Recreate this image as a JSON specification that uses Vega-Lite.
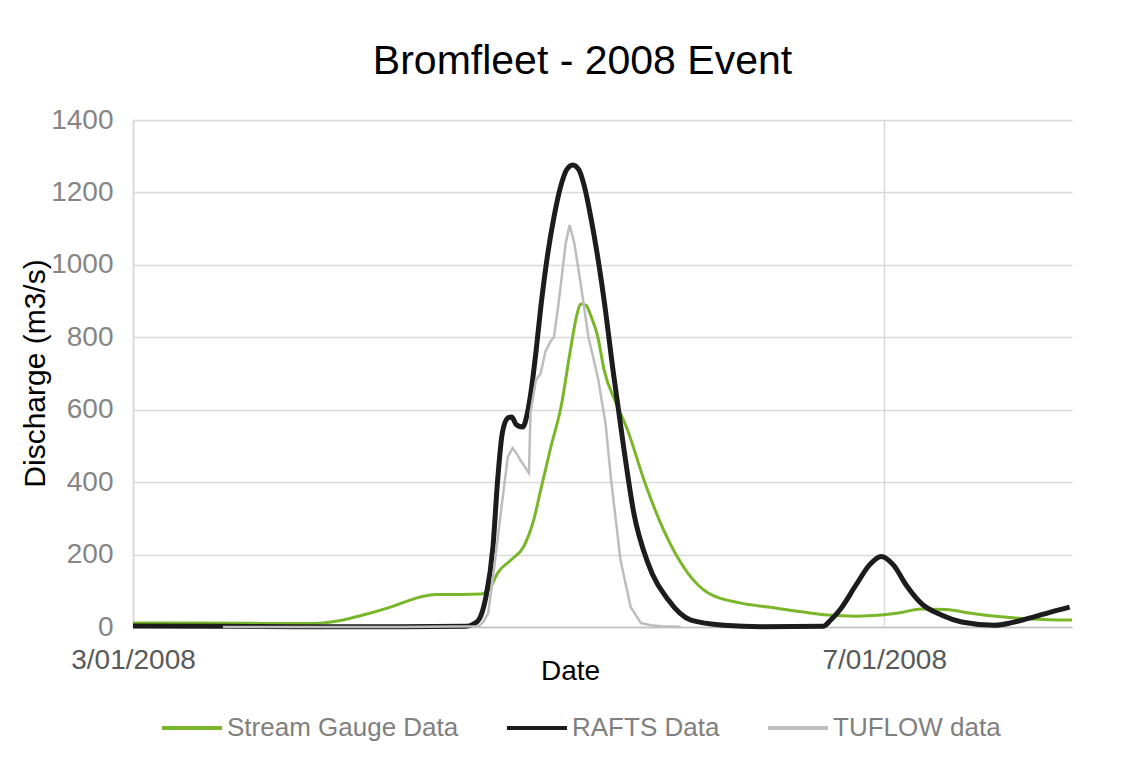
{
  "$schema": "https://vega.github.io/schema/vega-lite/v6.json",
  "width": 939,
  "height": 507,
  "autosize": "none",
  "padding": {"left": 133, "top": 120, "right": 67, "bottom": 133},
  "background": "white",
  "title": {"text": "Bromfleet - 2008 Event", "font": "Liberation Sans", "fontSize": 41, "fontWeight": "normal", "color": "#000000", "offset": 23, "dx": -20},
  "config": {
    "font": "Liberation Sans",
    "view": {"stroke": null},
    "legend": {"labelFont": "Liberation Sans"}
  },
  "data": {"values": [
    {"time": "2008-01-03T00:00", "series": "Stream Gauge Data", "discharge": 11},
    {"time": "2008-01-03T08:36", "series": "Stream Gauge Data", "discharge": 11},
    {"time": "2008-01-03T16:18", "series": "Stream Gauge Data", "discharge": 10},
    {"time": "2008-01-03T23:00", "series": "Stream Gauge Data", "discharge": 10},
    {"time": "2008-01-04T02:30", "series": "Stream Gauge Data", "discharge": 18},
    {"time": "2008-01-04T05:24", "series": "Stream Gauge Data", "discharge": 33},
    {"time": "2008-01-04T08:54", "series": "Stream Gauge Data", "discharge": 55},
    {"time": "2008-01-04T12:42", "series": "Stream Gauge Data", "discharge": 83},
    {"time": "2008-01-04T14:42", "series": "Stream Gauge Data", "discharge": 90},
    {"time": "2008-01-04T17:54", "series": "Stream Gauge Data", "discharge": 90},
    {"time": "2008-01-04T20:30", "series": "Stream Gauge Data", "discharge": 91},
    {"time": "2008-01-04T21:42", "series": "Stream Gauge Data", "discharge": 110},
    {"time": "2008-01-04T22:36", "series": "Stream Gauge Data", "discharge": 149},
    {"time": "2008-01-05T00:18", "series": "Stream Gauge Data", "discharge": 185},
    {"time": "2008-01-05T01:54", "series": "Stream Gauge Data", "discharge": 221},
    {"time": "2008-01-05T03:12", "series": "Stream Gauge Data", "discharge": 295},
    {"time": "2008-01-05T04:06", "series": "Stream Gauge Data", "discharge": 378},
    {"time": "2008-01-05T05:24", "series": "Stream Gauge Data", "discharge": 497},
    {"time": "2008-01-05T06:42", "series": "Stream Gauge Data", "discharge": 608},
    {"time": "2008-01-05T07:54", "series": "Stream Gauge Data", "discharge": 765},
    {"time": "2008-01-05T08:42", "series": "Stream Gauge Data", "discharge": 860},
    {"time": "2008-01-05T09:12", "series": "Stream Gauge Data", "discharge": 892},
    {"time": "2008-01-05T09:54", "series": "Stream Gauge Data", "discharge": 888},
    {"time": "2008-01-05T10:30", "series": "Stream Gauge Data", "discharge": 860},
    {"time": "2008-01-05T11:24", "series": "Stream Gauge Data", "discharge": 801},
    {"time": "2008-01-05T12:12", "series": "Stream Gauge Data", "discharge": 710},
    {"time": "2008-01-05T13:42", "series": "Stream Gauge Data", "discharge": 620},
    {"time": "2008-01-05T15:12", "series": "Stream Gauge Data", "discharge": 544},
    {"time": "2008-01-05T17:18", "series": "Stream Gauge Data", "discharge": 406},
    {"time": "2008-01-05T19:48", "series": "Stream Gauge Data", "discharge": 268},
    {"time": "2008-01-05T22:54", "series": "Stream Gauge Data", "discharge": 149},
    {"time": "2008-01-06T01:30", "series": "Stream Gauge Data", "discharge": 94},
    {"time": "2008-01-06T05:42", "series": "Stream Gauge Data", "discharge": 66},
    {"time": "2008-01-06T09:12", "series": "Stream Gauge Data", "discharge": 55},
    {"time": "2008-01-06T13:24", "series": "Stream Gauge Data", "discharge": 42},
    {"time": "2008-01-06T16:48", "series": "Stream Gauge Data", "discharge": 33},
    {"time": "2008-01-06T20:24", "series": "Stream Gauge Data", "discharge": 30},
    {"time": "2008-01-06T23:36", "series": "Stream Gauge Data", "discharge": 33},
    {"time": "2008-01-07T02:12", "series": "Stream Gauge Data", "discharge": 40},
    {"time": "2008-01-07T04:42", "series": "Stream Gauge Data", "discharge": 50},
    {"time": "2008-01-07T07:54", "series": "Stream Gauge Data", "discharge": 48},
    {"time": "2008-01-07T11:06", "series": "Stream Gauge Data", "discharge": 38},
    {"time": "2008-01-07T15:00", "series": "Stream Gauge Data", "discharge": 28},
    {"time": "2008-01-07T18:48", "series": "Stream Gauge Data", "discharge": 22},
    {"time": "2008-01-08T00:00", "series": "Stream Gauge Data", "discharge": 19},

    {"time": "2008-01-03T00:00", "series": "RAFTS Data", "discharge": 3},
    {"time": "2008-01-03T11:30", "series": "RAFTS Data", "discharge": 2},
    {"time": "2008-01-03T21:24", "series": "RAFTS Data", "discharge": 1},
    {"time": "2008-01-04T10:12", "series": "RAFTS Data", "discharge": 1},
    {"time": "2008-01-04T18:30", "series": "RAFTS Data", "discharge": 2},
    {"time": "2008-01-04T19:30", "series": "RAFTS Data", "discharge": 8},
    {"time": "2008-01-04T20:12", "series": "RAFTS Data", "discharge": 20},
    {"time": "2008-01-04T21:06", "series": "RAFTS Data", "discharge": 83},
    {"time": "2008-01-04T22:00", "series": "RAFTS Data", "discharge": 221},
    {"time": "2008-01-04T22:36", "series": "RAFTS Data", "discharge": 406},
    {"time": "2008-01-04T23:12", "series": "RAFTS Data", "discharge": 536},
    {"time": "2008-01-04T23:54", "series": "RAFTS Data", "discharge": 577},
    {"time": "2008-01-05T00:24", "series": "RAFTS Data", "discharge": 580},
    {"time": "2008-01-05T01:00", "series": "RAFTS Data", "discharge": 558},
    {"time": "2008-01-05T01:48", "series": "RAFTS Data", "discharge": 552},
    {"time": "2008-01-05T02:24", "series": "RAFTS Data", "discharge": 591},
    {"time": "2008-01-05T02:48", "series": "RAFTS Data", "discharge": 640},
    {"time": "2008-01-05T03:30", "series": "RAFTS Data", "discharge": 760},
    {"time": "2008-01-05T04:06", "series": "RAFTS Data", "discharge": 880},
    {"time": "2008-01-05T05:00", "series": "RAFTS Data", "discharge": 1030},
    {"time": "2008-01-05T05:48", "series": "RAFTS Data", "discharge": 1132},
    {"time": "2008-01-05T06:42", "series": "RAFTS Data", "discharge": 1220},
    {"time": "2008-01-05T07:24", "series": "RAFTS Data", "discharge": 1262},
    {"time": "2008-01-05T08:12", "series": "RAFTS Data", "discharge": 1276},
    {"time": "2008-01-05T09:00", "series": "RAFTS Data", "discharge": 1262},
    {"time": "2008-01-05T09:42", "series": "RAFTS Data", "discharge": 1215},
    {"time": "2008-01-05T10:30", "series": "RAFTS Data", "discharge": 1132},
    {"time": "2008-01-05T11:24", "series": "RAFTS Data", "discharge": 1020},
    {"time": "2008-01-05T12:12", "series": "RAFTS Data", "discharge": 903},
    {"time": "2008-01-05T13:24", "series": "RAFTS Data", "discharge": 700},
    {"time": "2008-01-05T14:42", "series": "RAFTS Data", "discharge": 497},
    {"time": "2008-01-05T16:00", "series": "RAFTS Data", "discharge": 315},
    {"time": "2008-01-05T17:48", "series": "RAFTS Data", "discharge": 177},
    {"time": "2008-01-05T20:24", "series": "RAFTS Data", "discharge": 75},
    {"time": "2008-01-05T23:18", "series": "RAFTS Data", "discharge": 19},
    {"time": "2008-01-06T03:30", "series": "RAFTS Data", "discharge": 5},
    {"time": "2008-01-06T08:18", "series": "RAFTS Data", "discharge": 1},
    {"time": "2008-01-06T16:12", "series": "RAFTS Data", "discharge": 2},
    {"time": "2008-01-06T17:12", "series": "RAFTS Data", "discharge": 20},
    {"time": "2008-01-06T18:30", "series": "RAFTS Data", "discharge": 52},
    {"time": "2008-01-06T20:24", "series": "RAFTS Data", "discharge": 116},
    {"time": "2008-01-06T22:06", "series": "RAFTS Data", "discharge": 171},
    {"time": "2008-01-06T23:36", "series": "RAFTS Data", "discharge": 195},
    {"time": "2008-01-07T01:12", "series": "RAFTS Data", "discharge": 171},
    {"time": "2008-01-07T02:48", "series": "RAFTS Data", "discharge": 116},
    {"time": "2008-01-07T04:42", "series": "RAFTS Data", "discharge": 66},
    {"time": "2008-01-07T07:18", "series": "RAFTS Data", "discharge": 33},
    {"time": "2008-01-07T09:54", "series": "RAFTS Data", "discharge": 14},
    {"time": "2008-01-07T14:06", "series": "RAFTS Data", "discharge": 5},
    {"time": "2008-01-07T16:18", "series": "RAFTS Data", "discharge": 12},
    {"time": "2008-01-07T18:48", "series": "RAFTS Data", "discharge": 26},
    {"time": "2008-01-07T21:24", "series": "RAFTS Data", "discharge": 42},
    {"time": "2008-01-07T23:42", "series": "RAFTS Data", "discharge": 55},

    {"time": "2008-01-03T11:30", "series": "TUFLOW data", "discharge": 0},
    {"time": "2008-01-04T10:12", "series": "TUFLOW data", "discharge": 0},
    {"time": "2008-01-04T20:12", "series": "TUFLOW data", "discharge": 2},
    {"time": "2008-01-04T20:48", "series": "TUFLOW data", "discharge": 15},
    {"time": "2008-01-04T21:24", "series": "TUFLOW data", "discharge": 39},
    {"time": "2008-01-04T22:12", "series": "TUFLOW data", "discharge": 170},
    {"time": "2008-01-04T23:00", "series": "TUFLOW data", "discharge": 315},
    {"time": "2008-01-04T23:54", "series": "TUFLOW data", "discharge": 470},
    {"time": "2008-01-05T00:30", "series": "TUFLOW data", "discharge": 494},
    {"time": "2008-01-05T01:00", "series": "TUFLOW data", "discharge": 480},
    {"time": "2008-01-05T01:30", "series": "TUFLOW data", "discharge": 461},
    {"time": "2008-01-05T02:36", "series": "TUFLOW data", "discharge": 425},
    {"time": "2008-01-05T02:48", "series": "TUFLOW data", "discharge": 591},
    {"time": "2008-01-05T03:30", "series": "TUFLOW data", "discharge": 682},
    {"time": "2008-01-05T04:06", "series": "TUFLOW data", "discharge": 700},
    {"time": "2008-01-05T04:42", "series": "TUFLOW data", "discharge": 760},
    {"time": "2008-01-05T05:24", "series": "TUFLOW data", "discharge": 790},
    {"time": "2008-01-05T05:48", "series": "TUFLOW data", "discharge": 801},
    {"time": "2008-01-05T06:18", "series": "TUFLOW data", "discharge": 880},
    {"time": "2008-01-05T06:42", "series": "TUFLOW data", "discharge": 950},
    {"time": "2008-01-05T07:18", "series": "TUFLOW data", "discharge": 1060},
    {"time": "2008-01-05T07:48", "series": "TUFLOW data", "discharge": 1110},
    {"time": "2008-01-05T08:24", "series": "TUFLOW data", "discharge": 1060},
    {"time": "2008-01-05T09:12", "series": "TUFLOW data", "discharge": 950},
    {"time": "2008-01-05T10:12", "series": "TUFLOW data", "discharge": 801},
    {"time": "2008-01-05T11:24", "series": "TUFLOW data", "discharge": 690},
    {"time": "2008-01-05T12:24", "series": "TUFLOW data", "discharge": 560},
    {"time": "2008-01-05T13:06", "series": "TUFLOW data", "discharge": 406},
    {"time": "2008-01-05T14:18", "series": "TUFLOW data", "discharge": 185},
    {"time": "2008-01-05T15:36", "series": "TUFLOW data", "discharge": 55},
    {"time": "2008-01-05T16:54", "series": "TUFLOW data", "discharge": 11},
    {"time": "2008-01-05T18:12", "series": "TUFLOW data", "discharge": 5},
    {"time": "2008-01-05T19:30", "series": "TUFLOW data", "discharge": 2},
    {"time": "2008-01-05T22:00", "series": "TUFLOW data", "discharge": 1}
  ]},
  "encoding": {
    "x": {
      "field": "time", "type": "temporal",
      "scale": {"domain": [{"year": 2008, "month": 1, "date": 3}, {"year": 2008, "month": 1, "date": 8}]},
      "axis": {
        "values": [{"year": 2008, "month": 1, "date": 3}, {"year": 2008, "month": 1, "date": 7}],
        "format": "%-d/%m/%Y", "labelFontSize": 28, "labelColor": "#595959", "labelPadding": 19,
        "labelFlush": false, "ticks": false, "grid": true, "gridColor": "#d9d9d9", "gridWidth": 1.5,
        "domainColor": "#bfbfbf", "domainWidth": 1.5,
        "title": "Date", "titleFontSize": 28, "titleFontWeight": "normal", "titleColor": "#000000",
        "titleX": 437, "titleY": 52, "titleBaseline": "alphabetic", "titleAlign": "center"
      }
    },
    "y": {
      "field": "discharge", "type": "quantitative",
      "scale": {"domain": [0, 1400], "nice": false},
      "axis": {
        "values": [0, 200, 400, 600, 800, 1000, 1200, 1400], "format": "d",
        "labelFontSize": 28, "labelColor": "#858585", "labelPadding": 20,
        "ticks": false, "grid": true, "gridColor": "#d9d9d9", "gridWidth": 1.5,
        "domainColor": "#d9d9d9", "domainWidth": 1.5,
        "title": "Discharge (m3/s)", "titleFontSize": 30, "titleFontWeight": "normal", "titleColor": "#000000",
        "titleX": -98, "titleY": 253, "titleBaseline": "middle", "titleAlign": "center", "titleAngle": -90
      }
    },
    "color": {
      "field": "series", "type": "nominal",
      "scale": {"domain": ["Stream Gauge Data", "RAFTS Data", "TUFLOW data"], "range": ["#7ab62a", "#1c1c1c", "#bdbdbd"]},
      "legend": {
        "orient": "none", "legendX": 27, "legendY": 576, "direction": "horizontal", "title": null,
        "labelFontSize": 26, "labelColor": "#7f7f7f", "labelLimit": 0, "symbolType": "stroke", "symbolSize": 3600,
        "symbolStrokeWidth": 4, "labelOffset": 3, "columnPadding": 40
      }
    }
  },
  "layer": [
    {"transform": [{"filter": "datum.series === 'Stream Gauge Data'"}], "mark": {"type": "line", "interpolate": "monotone", "strokeWidth": 3}},
    {"transform": [{"filter": "datum.series === 'RAFTS Data'"}], "mark": {"type": "line", "interpolate": "monotone", "strokeWidth": 5}},
    {"transform": [{"filter": "datum.series === 'TUFLOW data'"}], "mark": {"type": "line", "interpolate": "linear", "strokeWidth": 2.5}}
  ]
}
